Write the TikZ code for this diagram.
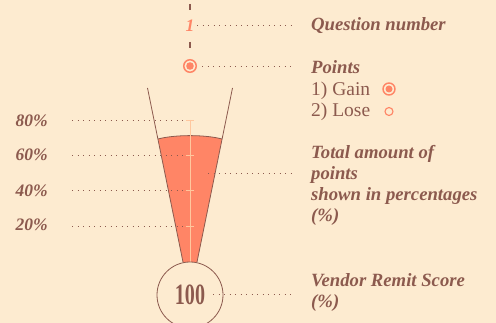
\documentclass[tikz,border=0pt]{standalone}
\usepackage{fontspec}
\setmainfont{Liberation Serif}
\definecolor{bg}{HTML}{FDEBD0}
\definecolor{brn}{HTML}{8C5A4E}
\definecolor{coral}{HTML}{FF8566}
\definecolor{peach}{HTML}{FFC79E}
\begin{document}
\begin{tikzpicture}[x=1pt,y=-1pt,
  lbl/.style={text=brn, font=\fontsize{18.7}{21}\selectfont\bfseries\itshape, anchor=base west, inner sep=0},
  reg/.style={text=brn, font=\fontsize{19.5}{21}\selectfont, anchor=base west, inner sep=0},
  pct/.style={text=brn, font=\fontsize{17.5}{18}\selectfont\bfseries\itshape, anchor=base east, inner sep=0},
  dots/.style={draw=brn, line width=0.9pt, dash pattern=on 0.9pt off 4.6pt},
  funnel/.style={draw=brn, line width=0.8pt},
  tick/.style={draw=peach, line width=0.8pt},
]
\fill[bg] (0,0) rectangle (496,323);
\useasboundingbox (0,0) rectangle (496,323);

% top dashed marker line
\coordinate (d1a) at (190,4); \coordinate (d1b) at (190,10);
\coordinate (d2a) at (190,42); \coordinate (d2b) at (190,48);
\draw[brn, line width=2pt] (d1a) -- (d1b);
\draw[brn, line width=2pt] (d2a) -- (d2b);

% question number
\node[text=coral, font=\fontsize{17.5}{17.5}\selectfont\bfseries\itshape, inner sep=0, anchor=base] (qn) at (190,32) {1};
\coordinate (qs) at (197,25.5); \coordinate (qe) at (292,25.5);
\draw[dots] (qs) -- (qe);
\node[lbl] (qlbl) at (311,31) {Question number};

% points marker
\node[circle, draw=coral, line width=1.5pt, fill=bg, minimum size=12.5pt, inner sep=0] (pm) at (190,66) {};
\fill[coral] (pm.center) circle (3.8);
\coordinate (ps) at (202,66); \coordinate (pe) at (293,66);
\draw[dots] (ps) -- (pe);
\node[lbl] (plbl) at (311,74) {Points};
\node[reg] (gain) at (311,95.5) {1) Gain};
\node[circle, draw=coral, line width=1.4pt, fill=bg, minimum size=12pt, inner sep=0] (gm) at (389,89) {};
\fill[coral] (gm.center) circle (3.5);
\node[reg] (lose) at (311,116.5) {2) Lose};
\node[circle, draw=coral, line width=1.1pt, minimum size=8pt, inner sep=0] (lm) at (389,111.5) {};

% funnel fill
\fill[coral] (158,139) .. controls (175,134.5) and (205,134.5) .. (222,139) -- (197,262) -- (183,262) -- cycle;
\draw[funnel] (158,139) .. controls (175,134.5) and (205,134.5) .. (222,139);
\coordinate (fl1) at (147.5,88); \coordinate (fl2) at (183,262);
\coordinate (fr1) at (232.5,88); \coordinate (fr2) at (197,262);
\draw[funnel] (fl1) -- (fl2);
\draw[funnel] (fr1) -- (fr2);

% center line and ticks
\coordinate (c1) at (190,120); \coordinate (c2) at (190,262);
\draw[tick] (c1) -- (c2);
\foreach \y/\b/\t in {120/126.5/80, 155/161/60, 190/196.3/40, 226/230.5/20}{
  \draw[tick] (186,\y) -- (194,\y);
  \node[pct] (p\t) at (48,\b) {\t\%};
  \draw[dots] (72,\y) -- (187,\y);
}

% total amount label
\coordinate (ts) at (208,173); \coordinate (te) at (293,173);
\draw[dots] (ts) -- (te);
\node[lbl] (t1) at (311,159) {Total amount of};
\node[lbl] (t2) at (311,180) {points};
\node[lbl] (t3) at (311,201) {shown in percentages};
\node[lbl] (t4) at (311,222) {(\%)};

% score circle
\node[circle, draw=brn, line width=0.8pt, fill=bg, minimum size=66pt, inner sep=0] (score) at (190,295) {};
\node[text=brn, inner sep=0] (sv) at (190,295) {\scalebox{0.68}[1]{\fontsize{29.5}{29.5}\selectfont\bfseries 100}};
\coordinate (ss) at (213,294.5); \coordinate (se) at (292,294.5);
\draw[dots] (ss) -- (se);
\node[lbl] (v1) at (311,286.5) {Vendor Remit Score};
\node[lbl] (v2) at (311,307.5) {(\%)};
\end{tikzpicture}
\end{document}
